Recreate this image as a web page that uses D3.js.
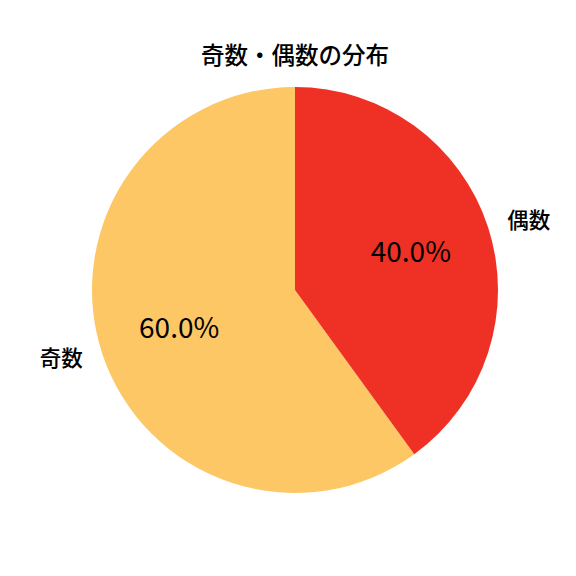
<!DOCTYPE html>
<html><head><meta charset="utf-8">
<script src="https://cdn.jsdelivr.net/npm/d3@7"></script>
<style>body{margin:0;background:#fff}</style>
</head><body>
<svg id="c" width="576" height="576"></svg>
<script>
const categories = ["奇数", "偶数"];
const values = [60, 40];
const colors = ["#FDC765", "#EE3124"];
const title = "奇数・偶数の分布";

const svg = d3.select("#c");
const cx = 295, cy = 290, R = 203;
const font = "'Noto Sans CJK JP', 'Noto Sans', sans-serif";
const total = d3.sum(values);

// matplotlib: startangle 90, counterclockwise
const pie = d3.pie().sort(null).value(d => d)
  .startAngle(0).endAngle(-2 * Math.PI);
const arcs = pie(values);
const arc = d3.arc().innerRadius(0).outerRadius(R);
const g = svg.append("g").attr("transform", `translate(${cx},${cy})`);
g.selectAll("path").data(arcs).join("path")
  .attr("d", arc).attr("fill", (d, i) => colors[i]);

function pos(d, r) {
  const a = (d.startAngle + d.endAngle) / 2;
  return [r * Math.sin(a), -r * Math.cos(a)];
}
g.selectAll("text.pct").data(arcs).join("text")
  .attr("class", "pct")
  .attr("x", d => pos(d, R * 0.6)[0]).attr("y", d => pos(d, R * 0.6)[1] - 2)
  .attr("text-anchor", "middle").attr("dominant-baseline", "central")
  .attr("font-family", font).attr("font-size", 28)
  .text(d => (d.value / total * 100).toFixed(1) + "%");
g.selectAll("text.lbl").data(arcs).join("text")
  .attr("class", "lbl")
  .attr("x", d => pos(d, R * 1.1)[0]).attr("y", d => pos(d, R * 1.1)[1] - 3)
  .attr("text-anchor", d => pos(d, 1)[0] > 0 ? "start" : "end")
  .attr("dominant-baseline", "central")
  .attr("font-family", font).attr("font-size", 21.5).attr("font-weight", 500)
  .text((d, i) => categories[i]);

svg.append("text").attr("x", 295).attr("y", 54)
  .attr("text-anchor", "middle").attr("dominant-baseline", "central")
  .attr("font-family", font).attr("font-size", 23.5).attr("font-weight", 500)
  .text(title);
</script>
</body></html>
